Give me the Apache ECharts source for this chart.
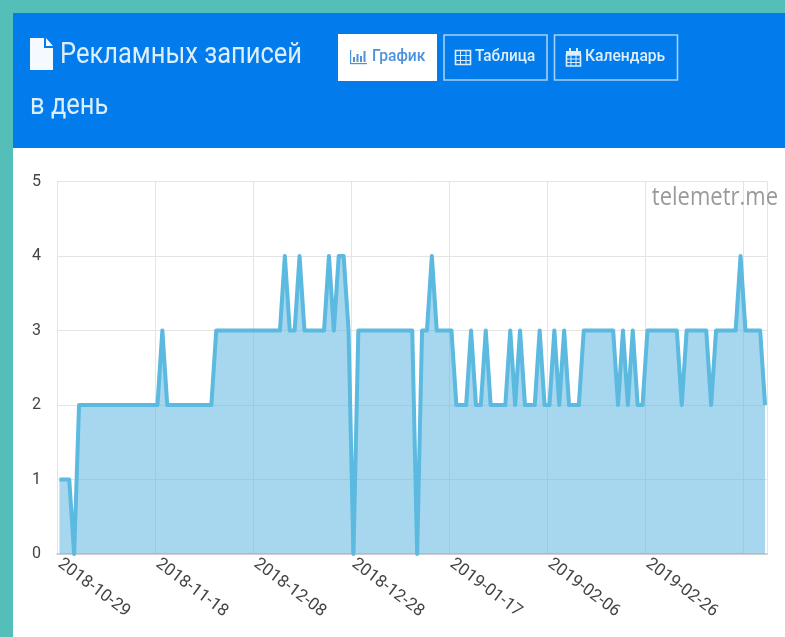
<!DOCTYPE html>
<html><head><meta charset="utf-8">
<script src="https://cdn.jsdelivr.net/npm/echarts@6/dist/echarts.min.js"></script>
<style>html,body{margin:0;padding:0;background:#fff;overflow:hidden}#c{width:785px;height:637px;filter:blur(.5px)}</style>
</head><body><div id="c"></div>
<script>
const firstDay = Date.UTC(2018, 9, 29);
const postsPerDay = [
 1,1,1,0,
 2,2,2,2,2,2,2,2,2,2,2,2,2,2,2,2,2,
 3,
 2,2,2,2,2,2,2,2,2,2,
 3,3,3,3,3,3,3,3,3,3,3,3,3,3,
 4,3,3,4,3,3,3,3,3,4,3,4,4,3,0,
 3,3,3,3,3,3,3,3,3,3,3,3,
 0,3,3,4,3,3,3,3,
 2,2,2,3,2,2,3,2,2,2,2,3,2,3,2,2,2,3,2,2,3,2,3,2,2,2,
 3,3,3,3,3,3,3,
 2,3,2,3,2,2,
 3,3,3,3,3,3,3,
 2,3,3,3,3,3,2,3,3,3,3,3,4,3,3,3,3,2
];
const categories = postsPerDay.map((_, i) => new Date(firstDay + i * 86400000).toISOString().slice(0, 10));
const xTickLabels = ['2018-10-29','2018-11-18','2018-12-08','2018-12-28','2019-01-17','2019-02-06','2019-02-26'];
const yTicks = [0, 1, 2, 3, 4, 5];
const titleLines = ['Рекламных записей', 'в день'];
const buttons = ['График', 'Таблица', 'Календарь'];
const watermark = 'telemetr.me';

const BLUE = '#027CEC', TEAL = '#54BFB8', EDGE = '#A3D0F4', ACTIVE = '#4C92DC', FG = '#DCEEFC';
const rect = (x, y, w, h, fill) => ({type:'rect', shape:{x, y, width:w, height:h}, style:{fill}});
const poly = (points, fill) => ({type:'polygon', shape:{points}, style:{fill}});
const text = (x, y, t, font, fill, sx, align) => ({type:'text', x, y, scaleX:sx||1, style:{text:t, font, fill, textAlign:align||'left', textVerticalAlign:'middle'}});
const box = (x, y, w, h, stroke) => ({type:'rect', shape:{x, y, width:w, height:h}, style:{fill:'none', stroke, lineWidth:1.6}});

const gfx = [
  rect(0, 0, 785, 13, TEAL), rect(0, 0, 13, 637, TEAL),
  rect(13, 13, 772, 135, BLUE),
  poly([[30,38],[44,38],[44,48],[53,48],[53,70],[30,70]], '#F4FAFF'),
  poly([[46,38],[53,46],[46,46]], '#F4FAFF'),
  text(60, 55, titleLines[0], '30px Roboto', FG, 0.85),
  text(30, 106, titleLines[1], '30px Roboto', FG, 0.85),
  rect(338, 34, 99, 47, '#fff'),
  box(444, 35, 103, 45, EDGE), box(554.5, 35, 123, 45, EDGE),
  text(372, 57, buttons[0], '500 17px Roboto', ACTIVE, 0.92),
  text(475, 57, buttons[1], '500 17px Roboto', FG, 0.9),
  text(585, 57, buttons[2], '500 17px Roboto', FG, 0.92),
  // chart icon
  rect(350, 50, 1.2, 14, ACTIVE), rect(350, 63, 17, 1.2, ACTIVE),
  rect(353, 57, 2, 5, ACTIVE), rect(356.5, 54, 2, 8, ACTIVE), rect(360, 56, 2, 6, ACTIVE), rect(363.5, 51, 2, 11, ACTIVE),
  // table icon
  box(455.5, 50.5, 15, 14, FG),
  rect(455, 55, 16, 1, FG), rect(455, 60, 16, 1, FG), rect(460, 50, 1, 15, FG), rect(465.5, 50, 1, 15, FG),
  // calendar icon
  rect(566, 51, 15, 4, FG), box(566.5, 55, 14, 11, FG),
  rect(569, 48, 2, 4, FG), rect(576, 48, 2, 4, FG),
  rect(566, 58.5, 15, 1, FG), rect(566, 62, 15, 1, FG), rect(570.5, 55, 1, 11, FG), rect(575.5, 55, 1, 11, FG),
  {...text(778, 198, watermark, '25px "Open Sans"', '#9A9A9A', 0.88, 'right'), z: 20}
];

const chart = echarts.init(document.getElementById('c'));
chart.setOption({
  animation: false,
  backgroundColor: '#fff',
  graphic: {elements: gfx},
  grid: {left: 57, right: 17.5, top: 181.5, bottom: 83, outerBoundsMode: 'none'},
  xAxis: {
    type: 'category', data: categories, boundaryGap: true,
    axisTick: {show: false},
    axisLine: {lineStyle: {color: '#C8C8C8', width: 1.5}},
    splitLine: {show: true, interval: 19, lineStyle: {color: '#E4E4E4', width: 1}},
    axisLabel: {interval: (i, v) => xTickLabels.includes(v), rotate: -37, margin: 8, color: '#444', fontFamily: 'Roboto', fontSize: 17}
  },
  yAxis: {
    type: 'value', min: yTicks[0], max: yTicks[yTicks.length - 1], interval: 1,
    axisLine: {show: false}, axisTick: {show: false},
    splitLine: {lineStyle: {color: '#E4E4E4', width: 1}},
    axisLabel: {margin: 16, color: '#444', fontFamily: 'Roboto', fontSize: 16, padding: [4, 0, 0, 0]}
  },
  series: [{
    type: 'line', data: postsPerDay, symbol: 'none', smooth: false,
    lineStyle: {color: '#5CB9E0', width: 4, join: 'round'},
    areaStyle: {color: 'rgba(92,182,224,0.55)', opacity: 1}
  }]
});
</script></body></html>
